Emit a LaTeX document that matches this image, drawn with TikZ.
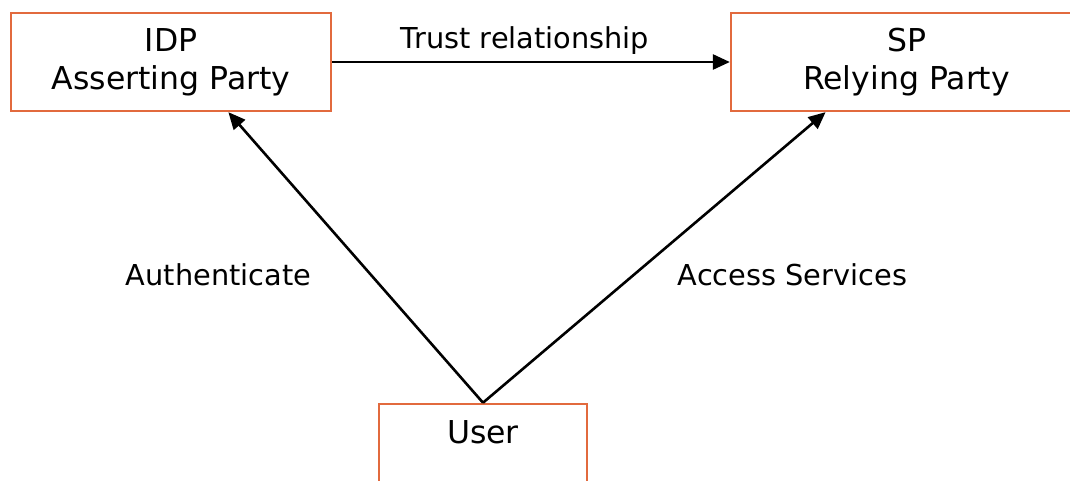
\documentclass[tikz,border=0pt]{standalone}
\usepackage{fontspec}
\setmainfont{DejaVu Sans}
\usetikzlibrary{arrows.meta,calc}
\definecolor{boxorange}{RGB}{226,106,62}
\begin{document}
\begin{tikzpicture}[x=1pt,y=-1pt,
  party/.style={draw=boxorange, line width=2.3pt, rectangle, inner sep=0pt,
    align=center, font=\fontsize{31.5}{37.7}\selectfont},
  caption/.style={anchor=base, inner sep=0pt, font=\fontsize{28.8}{34}\selectfont},
  link/.style={draw=black, line width=2.6pt, -{Triangle[length=17pt,width=15pt]}}]
  \useasboundingbox (0,0) rectangle (1070,480);
  \clip (0,0) rectangle (1070,480);
  % the three parties
  \node[party, minimum width=320pt, minimum height=98pt] (idp) at (171,62)
    {IDP\\Asserting Party};
  \node[party, minimum width=351pt, minimum height=98pt] (sp) at (906.5,62)
    {SP\\Relying Party};
  \node[party, minimum width=208pt, minimum height=120pt, anchor=north] (user)
    at (483,402.7) {};
  \node[caption, font=\fontsize{31.5}{37.7}\selectfont] (usertext) at (483,443) {User};
  % arrow end points on the bottom edges of the upper boxes
  \coordinate (idpin) at ($(idp.south west)!0.678!(idp.south east)$);
  \coordinate (spin) at ($(sp.south west)!0.271!(sp.south east)$);
  % connectors
  \draw[link] (idp.east) -- (sp.west);
  \draw[link] (user.north) -- (idpin);
  \draw[link] (user.north) -- (spin);
  % labels
  \node[caption] (trust) at (525,48.3) {Trust relationship};
  \node[caption] (auth) at (218.5,285) {Authenticate};
  \node[caption] (access) at (792.5,285) {Access Services};
\end{tikzpicture}
\end{document}
